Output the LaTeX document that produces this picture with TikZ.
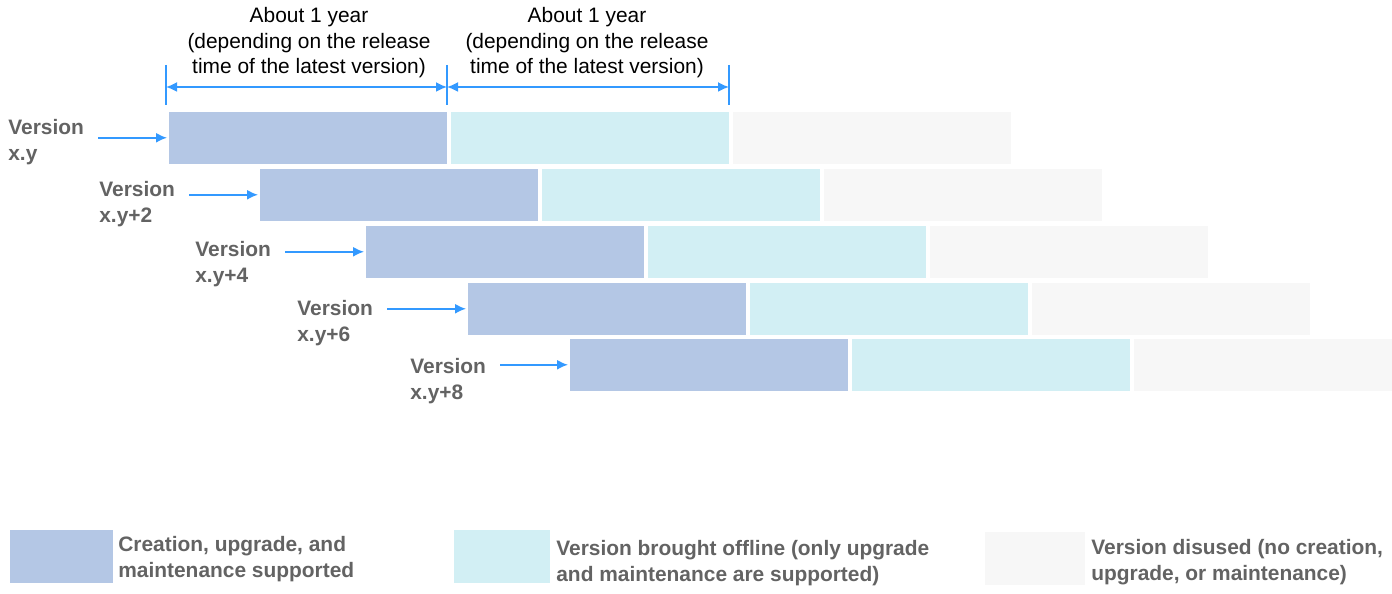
\documentclass[tikz,border=0pt]{standalone}
\usepackage{fontspec}
\setmainfont{Liberation Sans}
\usetikzlibrary{arrows.meta}

\definecolor{fullblue}{HTML}{B4C7E5}
\definecolor{offcyan}{HTML}{D2EFF4}
\definecolor{usedgray}{HTML}{F7F7F7}
\definecolor{pointblue}{HTML}{3399FF}
\definecolor{labelgray}{HTML}{636363}

\tikzset{
  bar/.style={draw=white, line width=0.9pt, inner sep=0pt, anchor=north west,
    minimum width=5.6cm, minimum height=1.08cm},
  verlabel/.style={anchor=north west, inner sep=0pt, align=left, text=labelgray,
    font=\fontsize{11.9}{14.7}\selectfont\bfseries},
  verarrow/.style={draw=pointblue, line width=1pt, -{Latex[length=2.2mm, width=2mm]}},
  dimline/.style={draw=pointblue, line width=1pt},
  dimarrow/.style={draw=pointblue, line width=1pt, {Latex[length=2.2mm, width=2mm]}-{Latex[length=2.2mm, width=2mm]}},
  toptext/.style={align=center, inner sep=0pt, font=\fontsize{11.9}{14.5}\selectfont},
  legbox/.style={inner sep=0pt, anchor=north west, minimum height=1.06cm},
  legtext/.style={anchor=west, align=left, inner sep=0pt, text=labelgray,
    font=\fontsize{11.9}{14.7}\selectfont\bfseries}
}

\begin{document}
\begin{tikzpicture}[x=0.02cm, y=-0.02cm]
  \useasboundingbox[fill=white] (0,0) rectangle (1392,594);

  % version rows: number / bar x / bar y / label x / label y / name
  \foreach \i/\x/\y/\lx/\ly/\name in {1/167/110/8/119/x.y, 2/258/167/99/181/x.y+2,
      3/364/224/195/241/x.y+4, 4/466/281/297/300/x.y+6, 5/568/337/410/358/x.y+8} {
    \node[bar, fill=fullblue] (b\i) at (\x,\y) {};
    \node[bar, fill=offcyan] (c\i) at (\x+282,\y) {};
    \node[bar, fill=usedgray] (g\i) at (\x+564,\y) {};
    \node[verlabel] (v\i) at (\lx,\ly) {Version\\\name};
    \draw[verarrow] ([xshift=0.28cm]v\i.east |- b\i.west) -- (b\i.west);
  }

  % time spans
  \draw[dimline] (166,65) -- (166,105);
  \draw[dimline] (447,65) -- (447,105);
  \draw[dimline] (729,65) -- (729,105);
  \coordinate (a0) at (166,87);
  \coordinate (a1) at (447,87);
  \coordinate (a2) at (729,87);
  \draw[dimarrow] (a0) -- (a1);
  \draw[dimarrow] (a1) -- (a2);
  \node[toptext] (t1) at (309,43) {About 1 year\\(depending on the release\\time of the latest version)};
  \node[toptext] (t2) at (587,43) {About 1 year\\(depending on the release\\time of the latest version)};

  % legend
  \node[legbox, fill=fullblue, minimum width=2.06cm] (k1) at (10,530) {};
  \node[legtext] (k1t) at (118,559) {Creation, upgrade, and\\maintenance supported};
  \node[legbox, fill=offcyan, minimum width=1.92cm] (k2) at (454,530) {};
  \node[legtext] (k2t) at (556,563) {Version brought offline (only upgrade\\and maintenance are supported)};
  \node[legbox, fill=usedgray, minimum width=2cm] (k3) at (985,532) {};
  \node[legtext] (k3t) at (1091,562) {Version disused (no creation,\\upgrade, or maintenance)};
\end{tikzpicture}
\end{document}
